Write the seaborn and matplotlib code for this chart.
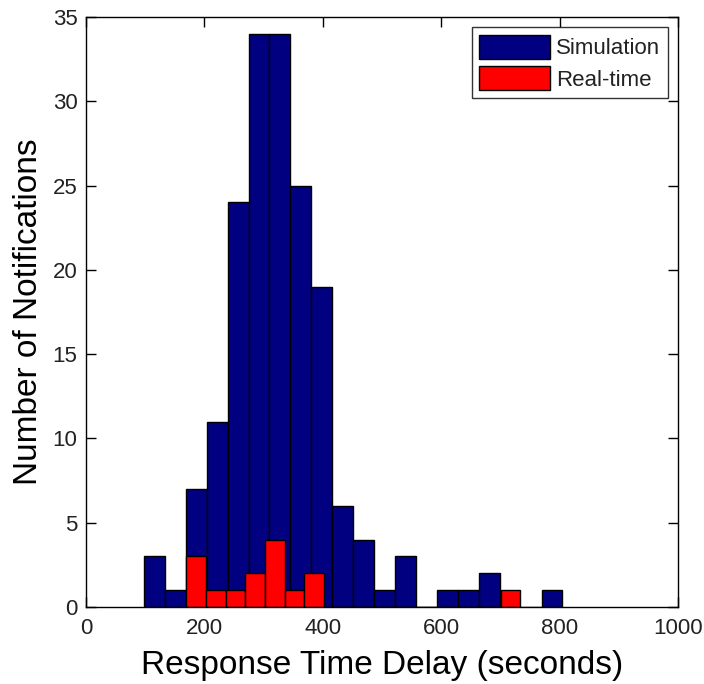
import numpy as np
import pandas as pd
import seaborn as sns
import matplotlib
matplotlib.use("Agg")
import matplotlib.pyplot as plt

# Histogram bins (seconds) and counts per bin for each series
sim_start, sim_width = 98.0, 35.35
sim_counts = [3, 1, 7, 11, 24, 34, 34, 25, 19, 6, 4, 1, 3, 0, 1, 1, 2, 0, 0, 1]

rt_start, rt_width = 169.5, 33.2
rt_counts = [3, 1, 1, 2, 4, 1, 2, 0, 0, 0, 0, 0, 0, 0, 0, 0, 1]

series_names = ["Simulation", "Real-time"]
series_colors = ["#000080", "#ff0000"]

x_ticks = [0, 200, 400, 600, 800, 1000]
y_ticks = [0, 5, 10, 15, 20, 25, 30, 35]

sns.set_style("ticks")
plt.rcParams["font.family"] = ["Liberation Sans", "DejaVu Sans"]


def binned(start, width, counts):
    edges = start + width * np.arange(len(counts) + 1)
    centers = (edges[:-1] + edges[1:]) / 2
    return [float(e) for e in edges], pd.DataFrame({"delay": centers, "count": counts})


fig = plt.figure(figsize=(7.04, 6.84), dpi=100)
ax = fig.add_axes([0.122, 0.1126, 0.841, 0.8626])

for (start, width, counts), name, color in zip(
    [(sim_start, sim_width, sim_counts), (rt_start, rt_width, rt_counts)],
    series_names, series_colors):
    edges, df = binned(start, width, counts)
    sns.histplot(data=df, x="delay", weights="count", bins=edges, ax=ax,
                 color=color, alpha=1.0, edgecolor="black", linewidth=1.0,
                 label=name)

ax.set_xlim(0, 1000)
ax.set_ylim(0, 35)
ax.set_xticks(x_ticks)
ax.set_yticks(y_ticks)
ax.tick_params(direction="in", length=7, width=1, top=True, right=True,
               labelsize=16, colors="black", labelcolor="#222222", pad=6)
ax.tick_params(axis="x", pad=8)
for s in ax.spines.values():
    s.set_visible(True)
    s.set_linewidth(1.0)
    s.set_color("black")

ax.set_xlabel("Response Time Delay (seconds)", fontsize=24, labelpad=8,
              color="black")
ax.set_ylabel("Number of Notifications", fontsize=24, labelpad=6,
              color="black")

leg = ax.legend(loc="upper right", fontsize=16, frameon=True, fancybox=False,
                edgecolor="black", handlelength=3.2, handleheight=1.3,
                handletextpad=0.25, borderpad=0.35, labelspacing=0.3,
                borderaxespad=0.45)
leg.get_frame().set_linewidth(1.0)
for t in leg.get_texts():
    t.set_color("#222222")

fig.savefig("out.png", dpi=100)
